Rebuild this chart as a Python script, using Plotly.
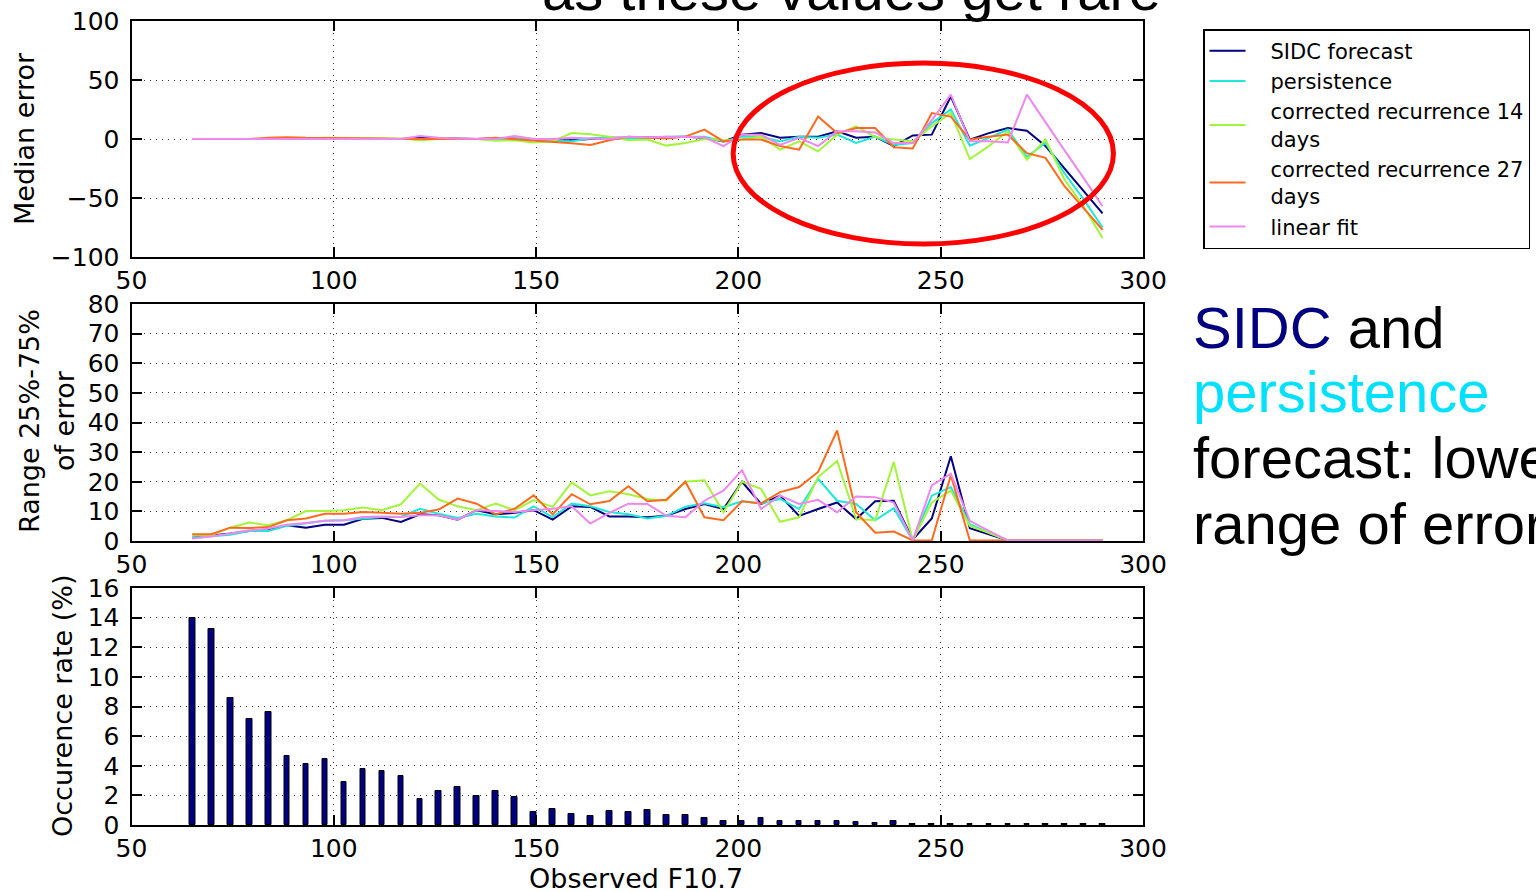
import plotly.graph_objects as go

# ---------------- data ----------------
f107 = [65.0, 69.7, 74.4, 79.1, 83.8, 88.4, 93.1, 97.8, 102.5, 107.2, 111.9, 116.6,
        121.3, 125.9, 130.6, 135.3, 140.0, 144.7, 149.4, 154.1, 158.8, 163.4, 168.1, 172.8,
        177.5, 182.2, 186.9, 191.6, 196.3, 200.9, 205.6, 210.3, 215.0, 219.7, 224.4, 229.1,
        233.8, 238.4, 243.1, 247.8, 252.5, 257.2, 261.9, 266.6, 271.3, 275.9, 280.6, 285.3, 290.0]

series_names = ["SIDC forecast", "persistence", "corrected recurrence 14|days",
                "corrected recurrence 27|days", "linear fit"]
series_colors = ["#000080", "#1EE8D8", "#A2F53A", "#FF6A1E", "#EE88EE"]

med_sidc = [0, 0, 0, 0, 0, 0, 0, 0, 0, 0, 0, 0, 1, 0.5, 0, 0, 0.5, 0.5, 0, -1, -1, 0, 1, 1,
            1.5, 2, 2, 1,
            -2, 3.7, 5, 1, 2, 2, 6.5, 1, 2, -6, 3, 3.7, 36, -0.5, 5, 9.3, 7, -6, -25, -44, -63]
med_pers = [0, 0, 0, 0, 0, 0, 0, 0, 0, 0, 0, 0, 0.5, 0, 0, 0, 0, 0, 0, -1.5, -2, 0.5, 1, 0,
            1, 2, 2, 2,
            -2, 2, 2, -2, 2, 1, 3.7, -3.4, 2, -5, -3.4, 13.5, 25, -5.6, 1, 8, -15, -3.4, -29, -51, -75]
med_rec14 = [0, 0, 0, 0, 0, 0, 0, 1, 1, 1, 0.5, 0.5, -1, 0, 0, 0, -1.5, -1, -3, -2, 5, 4, 2, -1,
             -0.5, -5.6, -3.4, 0,
             -1, -0.5, 2, -9, -2, -10.5, 3.7, 10.7, 1.7, -0.5, -2, 10.7, 22, -17, -6, 6.5, -17.5, -0.5, -34.5, -57, -84]
med_rec27 = [0, 0, 0, 0, 1, 1.5, 1, 1, 0.5, 0.5, 0.5, 0, 0, 0, 0, 0, 1, 0, -1, -2.5, -3.5, -5, -1, 2,
             1, 0.5, 2, 8,
             -2, -0.5, -0.5, -6, -9, 19, 5, 9.3, 9.3, -7, -8, 22, 19, -0.5, 2, 3.7, -12, -16, -40, -58.5, -77]
med_lin = [0, 0, 0, 0, 0, 0, 0, 0, 0, 0, 0, 0, 2.5, 1, 0.5, 0, 0, 2.5, 0, 0, 1, 0.5, 0, 2,
           1.5, 2, 2, 1.5,
           -6, 3.7, 3.7, -5, 1, -6, 6.5, 6.5, 5.6, -3.4, -3.4, 16, 37.6, -2, -2, -3, 37.6, 14, -9.6, -33, -57]

rng_sidc = [1.1, 1.7, 2.5, 3.4, 3.6, 5.3, 4.5, 5.5, 5.5, 7.5, 7.8, 6.4, 9.0, 8.7, 7.2, 10.4, 9.0, 9.5,
            10.4, 7.2, 11.7, 11.5, 8.3, 8.3,
            8, 8.5, 10.8, 12.5, 10.8, 20, 12.5, 15.3, 8.5, 10.8, 13, 7.4, 13.4, 13.6, 0.5, 7.6, 28.6,
            4.3, 2.3, 0.2, 0.2, 0.2, 0.2, 0.2, 0.2]
rng_pers = [1.1, 1.6, 2.1, 3.4, 3.4, 5.1, 5.9, 6.8, 7, 7.5, 8.1, 8.1, 10.9, 9.2, 7.8, 9.2, 8.3, 7.9,
            11.7, 8.1, 12.6, 11.7, 9.8, 9.0,
            7.6, 8.5, 11.6, 12.7, 11.4, 13.4, 12.7, 14.2, 10.8, 21, 13.6, 12.5, 7, 11.1, 0.2, 15.3, 18.2,
            5.7, 2.8, 0.2, 0.2, 0.2, 0.2, 0.2, 0.2]
rng_rec14 = [1.9, 1.9, 4.5, 6.2, 5.3, 7, 10.1, 10.1, 10.4, 11.3, 10.4, 12.4, 19.4, 14, 11.7, 10.4, 12.6,
             10.4, 13.8, 11.5, 19.8, 15.4, 16.8, 15.8,
             14.2, 13.6, 20, 20.5, 9.7, 20, 17.6, 6.5, 8, 21.6, 27, 7.4, 7, 26.7, 0.2, 13, 17,
             5.1, 2.8, 0.2, 0.2, 0.2, 0.2, 0.2, 0.2]
rng_rec27 = [2.3, 2.3, 4.5, 4.4, 4.7, 7, 7.6, 9.2, 9.2, 9.8, 9.5, 9.2, 9.5, 10.6, 14.3, 12.6, 9, 10.9,
             15.4, 9, 15.8, 12.4, 13.5, 18.5,
             13.4, 13.9, 20, 8, 7, 13.4, 12.7, 16.5, 18.2, 23.3, 37.3, 9.7, 2.8, 3.2, 0.2, 0.2, 22.2,
             0.2, 0.2, 0.2, 0.2, 0.2, 0.2, 0.2, 0.2]
rng_lin = [0.8, 1.5, 2.5, 3.6, 4.2, 5.5, 6.1, 6.8, 7, 8.1, 8.3, 8.1, 8.7, 8.7, 7.2, 10.4, 10.1, 9.8,
           10.4, 10.9, 11.7, 5.9, 9.5, 12.6,
           12.5, 8.5, 8, 13.6, 17, 23.9, 10.8, 15.3, 12.5, 13.9, 9.7, 15, 14.8, 13, 0.2, 18.8, 22.7,
           6.8, 3.4, 0.2, 0.2, 0.2, 0.2, 0.2, 0.2]

occurrence = [14.0, 13.26, 8.6, 7.15, 7.6, 4.67, 4.11, 4.45, 2.88, 3.78, 3.66, 3.33, 1.75, 2.31, 2.54,
              1.98, 2.31, 1.87, 0.85, 1.08, 0.74, 0.63, 0.97, 0.85,
              1.03, 0.70, 0.70, 0.47, 0.29, 0.29, 0.47, 0.25, 0.25, 0.25, 0.25, 0.18, 0.13, 0.25,
              0.05, 0.05, 0.05, 0.05, 0.05, 0.05, 0.05, 0.05, 0.05, 0.05, 0.05]

x_ticks = [50, 100, 150, 200, 250, 300]
med_ticks = [-100, -50, 0, 50, 100]
med_ticktext = ["\u2212100", "\u221250", "0", "50", "100"]
rng_ticks = [0, 10, 20, 30, 40, 50, 60, 70, 80]
occ_ticks = [0, 2, 4, 6, 8, 10, 12, 14, 16]

median_series = [med_sidc, med_pers, med_rec14, med_rec27, med_lin]
range_series = [rng_sidc, rng_pers, rng_rec14, rng_rec27, rng_lin]

# ---------------- figure ----------------
W, H = 1536, 892
fig = go.Figure()

PAD = "\u00a0\u00a0\u00a0"


def legend_label(name):
    return "<br>".join(PAD + part for part in name.split("|"))


for name, col, ys in zip(series_names, series_colors, median_series):
    fig.add_trace(go.Scatter(x=f107, y=ys, mode="lines", name=legend_label(name),
                             line=dict(color=col, width=2), xaxis="x", yaxis="y"))
for name, col, ys in zip(series_names, series_colors, range_series):
    fig.add_trace(go.Scatter(x=f107, y=ys, mode="lines", name=legend_label(name), showlegend=False,
                             line=dict(color=col, width=2), xaxis="x2", yaxis="y2"))
fig.add_trace(go.Bar(x=f107, y=occurrence, width=1.4, showlegend=False,
                     marker=dict(color="#000080", line=dict(color="black", width=1)),
                     xaxis="x3", yaxis="y3"))

tick_font = dict(family="DejaVu Sans", size=25, color="black")
xdom = [131.5 / W, 1143 / W]


def px_dom(top, bottom):
    return [1 - bottom / H, 1 - top / H]


common = dict(ticks="inside", ticklen=10, tickwidth=1.5, tickcolor="black",
              showline=True, linecolor="black", linewidth=2, mirror="ticks",
              showgrid=True, gridcolor="#333333", griddash="1px,5px", gridwidth=1,
              zeroline=False, tickfont=tick_font, automargin=False)

layout_axes = {}
for i, (top, bottom, anchor) in enumerate([(21, 257, "y"), (304, 541, "y2"), (588, 825, "y3")]):
    key = "xaxis" if i == 0 else f"xaxis{i+1}"
    layout_axes[key] = dict(common, domain=xdom, anchor=anchor, range=[50, 300],
                            tickvals=x_ticks, ticklabelstandoff=0)

layout_axes["yaxis"] = dict(common, domain=px_dom(21, 257), anchor="x", range=[-100, 100],
                            tickvals=med_ticks, ticktext=med_ticktext, ticklabelstandoff=5)
layout_axes["yaxis2"] = dict(common, domain=px_dom(304, 541), anchor="x2", range=[0, 80],
                             tickvals=rng_ticks, ticklabelstandoff=5)
layout_axes["yaxis3"] = dict(common, domain=px_dom(588, 825), anchor="x3", range=[0, 16],
                             tickvals=occ_ticks, ticklabelstandoff=5)

title_font = dict(family="DejaVu Sans", size=27, color="black")
big_font = dict(family="Liberation Sans, Arial", size=58, color="black")

annotations = [
    dict(text="Median error", x=25 / W, y=1 - 139 / H, textangle=-90, font=title_font),
    dict(text="Range 25%-75%<br>of error", x=47 / W, y=1 - 421 / H, textangle=-90, font=title_font),
    dict(text="Occurence rate (%)", x=62 / W, y=1 - 706 / H, textangle=-90, font=title_font),
    dict(text="Observed F10.7", x=636 / W, y=1 - 878 / H, font=title_font),
    dict(text="as these values get rare", x=851 / W, y=1 + 11 / H, font=big_font),
    dict(text="<span style='color:#000080'>SIDC</span> and", x=1191 / W, y=1 - 327 / H,
         xanchor="left", font=big_font),
    dict(text="persistence", x=1191 / W, y=1 - 392 / H, xanchor="left",
         font=dict(big_font, color="#00E0FF")),
    dict(text="forecast: lower", x=1191 / W, y=1 - 457 / H, xanchor="left", font=big_font),
    dict(text="range of error", x=1191 / W, y=1 - 523 / H, xanchor="left", font=big_font),
]
for a in annotations:
    a.setdefault("xanchor", "center")
    a.update(xref="paper", yref="paper", yanchor="middle", showarrow=False)

fig.update_layout(
    width=W, height=H,
    margin=dict(l=0, r=0, t=0, b=0, autoexpand=False),
    paper_bgcolor="white", plot_bgcolor="white",
    showlegend=True,
    legend=dict(x=1203 / W, y=1 - 29 / H, xanchor="left", yanchor="top",
                bordercolor="black", borderwidth=1.5, bgcolor="white",
                font=dict(family="DejaVu Sans", size=21, color="black"),
                itemwidth=36, tracegroupgap=0),
    annotations=annotations,
    shapes=[dict(type="circle", xref="x", yref="y", x0=198.7, x1=292.7, y0=-89, y1=64.4,
                 line=dict(color="#FF0000", width=5))],
    bargap=0,
    **layout_axes,
)

fig.write_html("out.html")
